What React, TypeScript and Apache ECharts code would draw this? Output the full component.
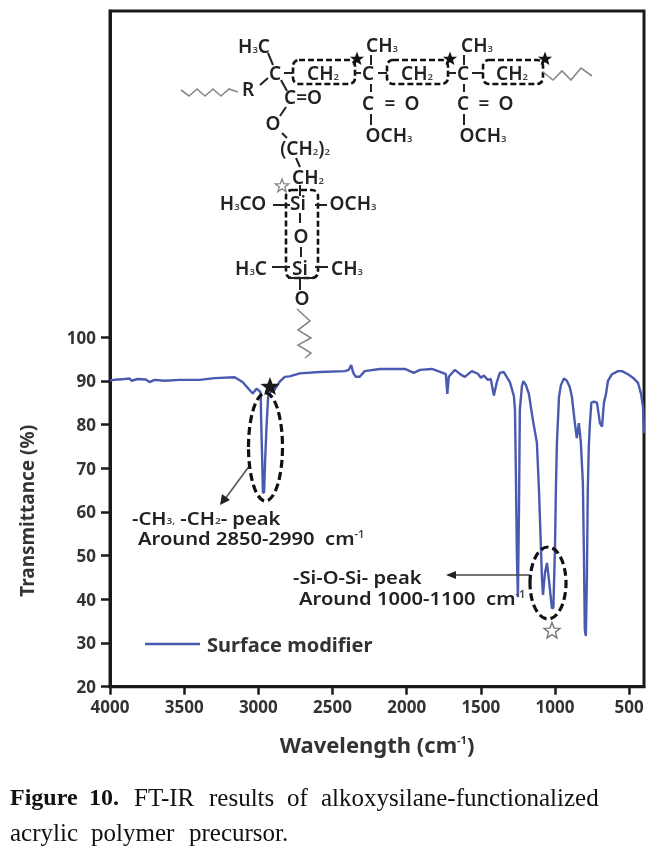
import React, { useEffect, useRef } from "react";
import * as echarts from "echarts";

const wavenumbers = [4000,3950,3902,3868,3855,3814,3760,3733,3700,3632,3530,3396,3295,3160,3106,3059,3038,3011,2988,2984,2981,2974,2969,2961,2954,2944,2934,2917,2890,2856,2822,2789,2721,2586,2417,2390,2374,2360,2343,2316,2283,2181,2012,1952,1911,1830,1756,1736,1726,1716,1675,1635,1608,1561,1520,1500,1480,1453,1433,1412,1392,1372,1345,1304,1277,1270,1264,1257,1250,1243,1237,1223,1213,1196,1176,1149,1122,1108,1095,1088,1081,1068,1054,1041,1021,1011,1000,994,987,973,960,940,920,900,886,866,853,839,826,812,805,799,792,785,779,772,765,755,738,717,697,683,670,656,643,616,575,548,508,468,440,420,407,400];
const transmittance = [90.1,90.3,90.4,90.5,90.0,90.4,90.3,89.7,90.2,90.0,90.2,90.2,90.6,90.8,89.7,87.9,87.1,88.2,87.5,87.0,81,72,64.3,64.5,72,80,86.3,87.5,88.0,89.8,90.9,91.0,91.7,92.0,92.2,92.5,93.6,91.8,90.9,90.9,92.2,92.7,92.7,91.8,92.5,92.7,91.8,91.5,87,90.9,92.5,91.4,90.9,92.2,91.6,90.7,91.2,90.2,90.4,86.6,89.7,91.8,92.0,89.7,86.5,83.4,69.6,50.1,40.5,60,83.3,88.8,89.9,89,87,81,75.8,65,52,45,41,46,48.3,44.5,38,38,52,65,75.8,86.3,89,90.5,90,88.5,86.3,80.3,76.9,80.3,76,66.6,50,33,31.6,45,65,75,80,85,85.2,85,80.3,79.5,85,87,90,91.5,92.2,92.2,91.5,90.5,89.5,87,84,78];
const xTicks = [4000,3500,3000,2500,2000,1500,1000,500];
const yTicks = [20,30,40,50,60,70,80,90,100];
const seriesName = "Surface modifier";

const SANS = '"Noto Sans", sans-serif';
const INK = "#222";

function chem(text: string, x: number, y: number, size = 19, align = "center", scaleX = 1): any {
  return {
    type: "text", z: 20, x, y, scaleX,
    style: {
      text, x: 0, y: 0, align, verticalAlign: "middle", fill: INK,
      fontFamily: SANS, fontWeight: 600, fontSize: size,
      rich: {
        a: { fontFamily: SANS, fontWeight: 600, fontSize: size, fill: INK },
        s: { fontFamily: SANS, fontWeight: 600, fontSize: size * 0.5, fill: "#444", padding: [size * 0.35, 0, 0, 0] },
        u: { fontFamily: SANS, fontWeight: 600, fontSize: size * 0.55, fill: "#444", padding: [0, 0, size * 0.45, 0] },
      },
    },
  };
}

function bond(x1: number, y1: number, x2: number, y2: number, color = INK, width = 2): any {
  return { type: "line", z: 19, shape: { x1, y1, x2, y2 }, style: { stroke: color, lineWidth: width } };
}

function wave(points: number[][]): any {
  return { type: "polyline", z: 19, shape: { points }, style: { stroke: "#888", lineWidth: 1.6, fill: "none" } };
}

function dashedBox(x: number, y: number, width: number, height: number, r = 6): any {
  return {
    type: "rect", z: 18, shape: { x, y, width, height, r },
    style: { fill: "none", stroke: "#111", lineWidth: 2.6, lineDash: [6, 3] },
  };
}

function star(cx: number, cy: number, r: number, fill: string, stroke: string): any {
  const points: number[][] = [];
  for (let i = 0; i < 10; i++) {
    const a = -Math.PI / 2 + (i * Math.PI) / 5;
    const q = i % 2 === 0 ? r : r * 0.42;
    points.push([cx + q * Math.cos(a), cy + q * Math.sin(a)]);
  }
  return { type: "polygon", z: 22, shape: { points }, style: { fill, stroke, lineWidth: 1.4 } };
}

function ellipse(cx: number, cy: number, rx: number, ry: number): any {
  return {
    type: "ellipse", z: 21, shape: { cx, cy, rx, ry },
    style: { fill: "none", stroke: "#111", lineWidth: 3.2, lineDash: [8, 4] },
  };
}

function word(text: string, x: number, y: number, bold = false): any {
  return {
    type: "text", z: 20,
    style: {
      text, x, y, align: "left", verticalAlign: "middle", fill: "#111",
      fontFamily: '"Liberation Serif", serif', fontSize: bold ? 24 : 25, fontWeight: bold ? 700 : 400,
    },
  };
}

function buildGraphics(): any[] {
  return [
    chem("{a|H}{s|3}{a|C}", 254, 46),
    chem("{a|C}", 275, 73),
    chem("{a|R}", 248, 89),
    chem("{a|C=O}", 303, 97),
    chem("{a|O}", 273, 123),
    chem("{a|(CH}{s|2}{a|)}{s|2}", 305, 148),
    chem("{a|CH}{s|2}", 308, 177),
    chem("{a|H}{s|3}{a|CO}", 243, 203),
    chem("{a|Si}", 298, 203),
    chem("{a|OCH}{s|3}", 353, 203),
    chem("{a|O}", 301, 236),
    chem("{a|H}{s|3}{a|C}", 251, 268),
    chem("{a|Si}", 300, 268),
    chem("{a|CH}{s|3}", 347, 268),
    chem("{a|O}", 302, 298),
    chem("{a|CH}{s|2}", 323, 73),
    chem("{a|C}", 368, 73),
    chem("{a|CH}{s|3}", 382, 45),
    chem("{a|C}", 368, 103),
    chem("{a|=}", 390, 103),
    chem("{a|O}", 412, 103),
    chem("{a|OCH}{s|3}", 389, 135),
    chem("{a|CH}{s|2}", 417, 73),
    chem("{a|C}", 463, 73),
    chem("{a|CH}{s|3}", 477, 45),
    chem("{a|C}", 463, 103),
    chem("{a|=}", 484, 103),
    chem("{a|O}", 506, 103),
    chem("{a|OCH}{s|3}", 483, 135),
    chem("{a|CH}{s|2}", 512, 73),

    bond(268, 53, 273, 65), bond(268, 78, 260, 85), bond(281, 80, 287, 91),
    bond(286, 107, 280, 116), bond(282, 133, 287, 138), bond(296, 158, 300, 167),
    bond(300, 185, 300, 196), bond(273, 205, 290, 205), bond(315, 205, 327, 205),
    bond(300, 213, 300, 223), bond(301, 247, 301, 257), bond(272, 267, 290, 267),
    bond(315, 267, 328, 267), bond(300, 278, 300, 290), bond(288, 278, 314, 278),
    bond(371, 55, 371, 65), bond(371, 84, 371, 92), bond(371, 114, 371, 125),
    bond(464, 55, 464, 65), bond(464, 84, 464, 92), bond(464, 114, 464, 125),
    bond(284, 73, 293, 73), bond(355, 73, 361, 73), bond(378, 73, 387, 73),
    bond(448, 73, 456, 73), bond(472, 73, 483, 73),

    wave([[181, 90], [189, 96], [197, 89], [205, 96], [213, 89], [221, 96], [229, 89], [238, 92]]),
    wave([[543, 72], [553, 80], [562, 71], [571, 80], [581, 68], [592, 76]]),
    wave([[297, 309], [310, 321], [298, 330], [311, 338], [298, 345], [311, 353], [305, 358]]),

    dashedBox(293, 60, 62, 24),
    dashedBox(387, 60, 61, 24),
    dashedBox(483, 60, 60, 24),
    dashedBox(286, 190, 32, 88),

    star(357, 59, 5.5, "#111", "#111"),
    star(450, 59, 5.5, "#111", "#111"),
    star(545, 59, 5.5, "#111", "#111"),
    star(282, 186, 7, "#fff", "#888"),
    star(270, 387, 8, "#1a1a1a", "#1a1a1a"),
    star(552, 631, 8.5, "#fff", "#777"),

    ellipse(265.5, 447, 17, 54),
    ellipse(548, 583, 18, 36),

    bond(250, 465, 225, 499, "#555", 1.6),
    { type: "polygon", z: 20, shape: { points: [[220, 505], [222, 494], [230, 500]] }, style: { fill: "#222" } },
    bond(529, 575, 455, 575, "#444", 1.6),
    { type: "polygon", z: 20, shape: { points: [[446, 575], [456, 571], [456, 579]] }, style: { fill: "#222" } },

    chem("{a|-CH}{s|3,}{a| -CH}{s|2}{a|- peak}", 132, 518, 18, "left", 1.12),
    chem("{a|Around 2850-2990  cm}{u|-1}", 138, 538, 18, "left", 1.12),
    chem("{a|-Si-O-Si- peak}", 293, 577, 18, "left", 1.12),
    chem("{a|Around 1000-1100  cm}{u|-1}", 299, 598, 18, "left", 1.12),

    word("Figure", 10, 797, true),
    word("10.", 89, 797, true),
    word("FT-IR", 134, 797),
    word("results", 209, 797),
    word("of", 287, 797),
    word("alkoxysilane-functionalized", 321, 797),
    word("acrylic", 10, 832),
    word("polymer", 91, 832),
    word("precursor.", 189, 832),
  ];
}

export default function App() {
  const ref = useRef<HTMLDivElement>(null);
  useEffect(() => {
    document.body.style.margin = "0";
    const chart = echarts.init(ref.current!, undefined, { renderer: "svg" });
    const labelStyle = { fontFamily: SANS, fontWeight: 700, fontSize: 17, color: "#333", formatter: (v: number) => String(v) };
    chart.setOption({
      animation: false,
      backgroundColor: "#fff",
      grid: {
        show: true, left: 110, right: 22, top: 11, bottom: 162.3,
        borderColor: "#1a1a1a", borderWidth: 3, backgroundColor: "#fff",
      },
      legend: {
        show: true, left: 145, top: 634, padding: 0, itemWidth: 55, itemHeight: 2.5, itemGap: 0,
        icon: "rect", selectedMode: false,
        textStyle: { fontFamily: SANS, fontWeight: 700, fontSize: 20, color: "#333", padding: [0, 0, 0, 2] },
        data: [{ name: seriesName }],
      },
      xAxis: {
        type: "value", inverse: true, min: 400, max: 4000,
        name: "{a|Wavelength (cm}{u|-1}{a|)}", nameLocation: "middle", nameGap: 46,
        nameTextStyle: {
          rich: {
            a: { fontFamily: SANS, fontWeight: 700, fontSize: 22, color: "#333" },
            u: { fontFamily: SANS, fontWeight: 700, fontSize: 11, color: "#333", padding: [0, 0, 9, 0] },
          },
        },
        splitLine: { show: false },
        axisLine: { show: true, lineStyle: { color: "#1a1a1a", width: 3 } },
        axisTick: { show: true, customValues: xTicks, length: 8, lineStyle: { color: "#1a1a1a", width: 2.5 } },
        axisLabel: { show: true, customValues: xTicks, margin: 11, ...labelStyle },
      },
      yAxis: {
        type: "value", min: 20, max: 174.6,
        name: "Transmittance (%)", nameLocation: "middle", nameGap: 74, nameRotate: 90,
        nameTextStyle: { fontFamily: SANS, fontWeight: 700, fontSize: 19, color: "#333", padding: [0, 324, 0, 0] },
        splitLine: { show: false },
        axisLine: { show: true, lineStyle: { color: "#1a1a1a", width: 3 } },
        axisTick: { show: true, customValues: yTicks, length: 9, lineStyle: { color: "#1a1a1a", width: 2.5 } },
        axisLabel: { show: true, customValues: yTicks, margin: 14, ...labelStyle },
      },
      series: [
        {
          name: seriesName, type: "line", showSymbol: false, smooth: false, clip: true,
          lineStyle: { color: "#4a5ab0", width: 2.4 },
          itemStyle: { color: "#4a5ab0" },
          data: wavenumbers.map((w, i) => [w, transmittance[i]]),
        },
      ],
      graphic: buildGraphics(),
    });
    return () => chart.dispose();
  }, []);
  return <div ref={ref} style={{ width: 666, height: 849, filter: "blur(0.5px)" }} />;
}
